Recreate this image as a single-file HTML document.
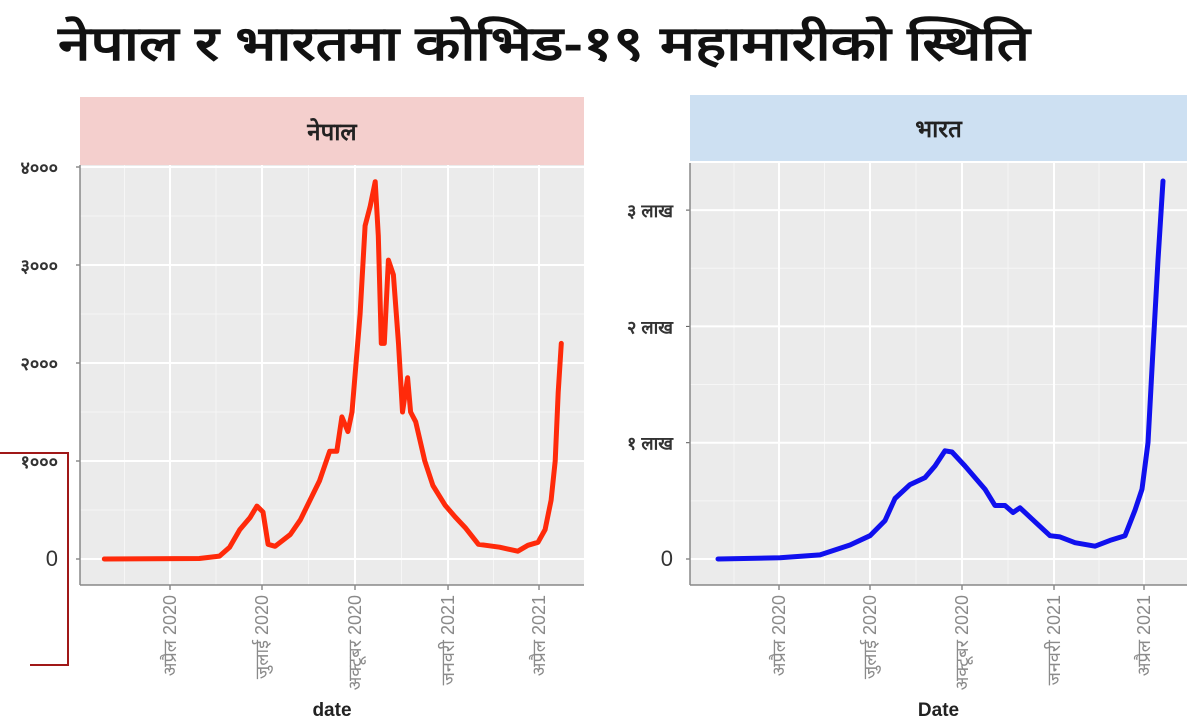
<!DOCTYPE html>
<html><head><meta charset="utf-8">
<style>
body{margin:0;background:#fff;width:1195px;height:728px;overflow:hidden;font-family:"Liberation Sans","Noto Sans CJK SC",sans-serif}
svg{display:block}
</style></head>
<body>
<svg id="chart" width="1195" height="728" viewBox="0 0 1195 728">
<text x="58" y="60" font-size="48" font-weight="bold" fill="#111" textLength="972" lengthAdjust="spacingAndGlyphs" font-family="'Liberation Sans','Noto Sans CJK SC',sans-serif">नेपाल र भारतमा कोभिड-१९ महामारीको स्थिति</text>
</svg>
<script>
// Nepal data: day index from 2020-01-01, daily cases
const nepalDays = [26,120,140,150,160,170,177,183,188,195,210,220,239,249,256,261,267,271,279,284,289,294,297,300,303,307,312,317,321,326,329,334,343,351,363,373,383,396,417,435,445,455,462,468,472,475,478];
const nepalCases = [0,5,30,120,300,420,540,480,150,130,250,400,800,1100,1100,1450,1300,1500,2500,3400,3600,3850,3300,2200,2200,3050,2900,2200,1500,1850,1500,1400,1000,750,550,430,320,150,120,80,140,170,300,600,1000,1700,2200];
const nepalTicks = [0,1000,2000,3000,4000];
const nepalTickLabels = ["0","१०००","२०००","३०००","४०००"];
// India data (lakh)
const indiaDays = [30,92,132,162,182,197,207,222,237,247,257,264,277,297,307,317,325,332,347,362,372,387,407,422,437,447,454,460,465,470,475];
const indiaCases = [0,0.01,0.035,0.12,0.2,0.33,0.52,0.64,0.7,0.8,0.93,0.92,0.8,0.6,0.46,0.46,0.40,0.44,0.32,0.2,0.19,0.14,0.11,0.16,0.2,0.42,0.6,1.0,1.8,2.57,3.25];
const indiaTicks = [0,1,2,3];
const indiaTickLabels = ["0","१ लाख","२ लाख","३ लाख"];
const monthDays = [91,182,274,366,456];
const monthLabels = ["अप्रैल 2020","जुलाई 2020","अक्टूबर 2020","जनवरी 2021","अप्रैल 2021"];

const svg = document.getElementById('chart');
const NS = 'http://www.w3.org/2000/svg';
function mk(tag, attrs, parent){const e=document.createElementNS(NS,tag);for(const k in attrs)e.setAttribute(k,attrs[k]);(parent||svg).appendChild(e);return e;}

function panel(o){
  const g = mk('g',{});
  
  
  const strip = mk('rect',{x:o.px,y:o.sy,width:o.pw,height:o.sh,fill:o.stripFill},g);
  
  
  const st = mk('text',{x:o.px+o.pw/2,y:o.sy+o.sh/2+9,'text-anchor':'middle','font-size':24,'font-weight':'bold',fill:'#222'},g);
  st.textContent = o.title;
  
  
  const bg = mk('rect',{x:o.px,y:o.py,width:o.pw,height:o.ph,fill:'#ebebeb'},g);
  
  
  const xs = d => o.x0 + (d-91)*o.kx;
  const ys = v => o.y0 - v*o.ky;
  const minors=[monthDays[0]-45];
  for(let i=0;i<monthDays.length-1;i++) minors.push((monthDays[i]+monthDays[i+1])/2);
  minors.push(monthDays[monthDays.length-1]+45);
  minors.forEach(d=>{const x=xs(d); if(x>o.px&&x<o.px+o.pw) mk('line',{x1:x,x2:x,y1:o.py,y2:o.py+o.ph,stroke:'#f6f6f6','stroke-width':1},g);});
  for(let i=0;i<o.ticks.length;i++){const v=o.ticks[i]+o.step/2;const y=ys(v);if(y>o.py) mk('line',{x1:o.px,x2:o.px+o.pw,y1:y,y2:y,stroke:'#f6f6f6','stroke-width':1},g);}
  o.ticks.forEach((t,i)=>{
    const y=ys(t);
    mk('line',{x1:o.px,x2:o.px+o.pw,y1:y,y2:y,stroke:'#fff','stroke-width':2},g);
    mk('line',{x1:o.px-4,x2:o.px,y1:y,y2:y,stroke:'#555','stroke-width':1},g);
    const lab = mk('text',{x:o.labX,y:y+7,'text-anchor':'end','font-size':i===0?22:18,'font-weight':i===0?'normal':'bold',fill:'#333'},g);
    lab.textContent=o.tickLabels[i];
    
    
  });
  monthDays.forEach((d,i)=>{
    const x=xs(d);
    mk('line',{x1:x,x2:x,y1:o.py,y2:o.py+o.ph,stroke:'#fff','stroke-width':2},g);
    mk('line',{x1:x,x2:x,y1:o.py+o.ph,y2:o.py+o.ph+5,stroke:'#555','stroke-width':1},g);
    const t=mk('text',{x:0,y:0,'text-anchor':'end','font-size':18,fill:'#8a8a8a',transform:`translate(${x+6},${o.py+o.ph+10}) rotate(-90)`},g);
    t.textContent=monthLabels[i];
    
    
  });
  mk('line',{x1:o.px,x2:o.px,y1:o.py,y2:o.py+o.ph,stroke:'#888','stroke-width':1.5},g);
  mk('line',{x1:o.px,x2:o.px+o.pw,y1:o.py+o.ph,y2:o.py+o.ph,stroke:'#888','stroke-width':1.5},g);
  const pts = o.days.map((d,i)=>xs(d).toFixed(1)+','+ys(o.vals[i]).toFixed(1)).join(' ');
  const line = mk('polyline',{points:pts,fill:'none',stroke:o.color,'stroke-width':5,'stroke-linejoin':'round','stroke-linecap':'round'},g);
  
  
  const xt = mk('text',{x:o.px+o.pw/2,y:716,'text-anchor':'middle','font-size':19,'font-weight':'bold',fill:'#222'},g);
  xt.textContent=o.xTitle;
  
  
}

panel({name:'nepal',title:'नेपाल',stripFill:'#f4cfcd',px:80,pw:504,sy:97,sh:68,py:165,ph:420,
  x0:170,kx:1.011,y0:559,ky:0.098,ticks:nepalTicks,tickLabels:nepalTickLabels,step:1000,labX:58,
  days:nepalDays,vals:nepalCases,color:'#ff2a0a',xTitle:'date'});
panel({name:'india',title:'भारत',stripFill:'#cde0f2',px:690,pw:497,sy:95,sh:66,py:163,ph:422,
  x0:779,kx:1.0,y0:559,ky:116.3,ticks:indiaTicks,tickLabels:indiaTickLabels,step:1,labX:673,
  days:indiaDays,vals:indiaCases,color:'#1010ee',xTitle:'Date'});

const br = mk('polyline',{points:'0,453 68,453 68,665 30,665',fill:'none',stroke:'#a01818','stroke-width':2});


</script>
</body></html>
